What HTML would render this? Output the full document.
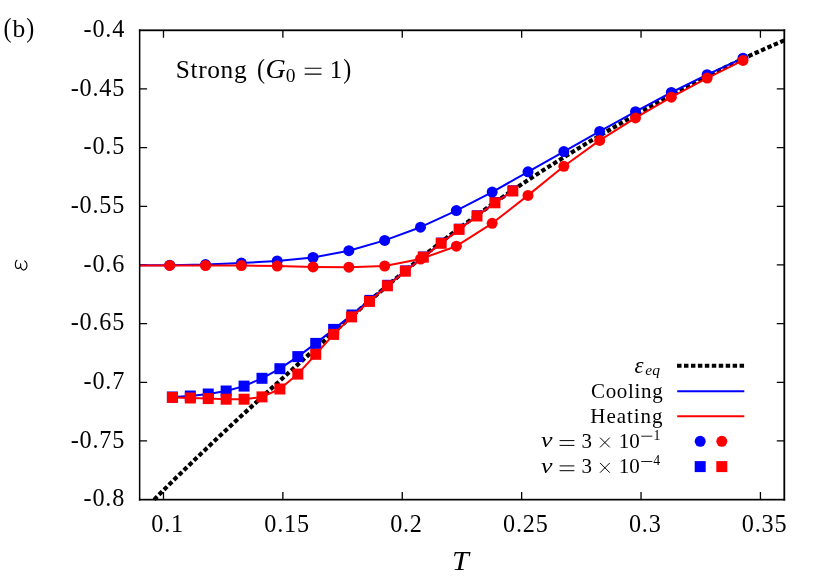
<!DOCTYPE html>
<html><head><meta charset="utf-8"><title>chart</title>
<style>
html,body{margin:0;padding:0;background:#fff;}
body{width:830px;height:581px;overflow:hidden;}
svg{display:block;}
text{font-family:"Liberation Serif",serif;fill:#000;}
.tk{font-size:24.2px;letter-spacing:0.8px;}
.lg{font-size:21px;}
.it{font-style:italic;}
</style></head><body>
<svg width="830" height="581" viewBox="0 0 830 581">
<rect x="0" y="0" width="830" height="581" fill="#fff"/>

<g stroke="#000" stroke-width="1.3" fill="none">
<path d="M163.48,499.6 v-7.5 M163.48,30.3 v7.5"/>
<path d="M282.87,499.6 v-7.5 M282.87,30.3 v7.5"/>
<path d="M402.26,499.6 v-7.5 M402.26,30.3 v7.5"/>
<path d="M521.65,499.6 v-7.5 M521.65,30.3 v7.5"/>
<path d="M641.04,499.6 v-7.5 M641.04,30.3 v7.5"/>
<path d="M760.43,499.6 v-7.5 M760.43,30.3 v7.5"/>
<path d="M139.6,88.96 h7.5 M784.3,88.96 h-7.5"/>
<path d="M139.6,147.62 h7.5 M784.3,147.62 h-7.5"/>
<path d="M139.6,206.29 h7.5 M784.3,206.29 h-7.5"/>
<path d="M139.6,264.95 h7.5 M784.3,264.95 h-7.5"/>
<path d="M139.6,323.61 h7.5 M784.3,323.61 h-7.5"/>
<path d="M139.6,382.28 h7.5 M784.3,382.28 h-7.5"/>
<path d="M139.6,440.94 h7.5 M784.3,440.94 h-7.5"/>
</g>
<path d="M154.11,499.60 L159.41,494.30 L164.70,489.03 L170.00,483.80 L175.29,478.59 L180.59,473.42 L185.88,468.28 L191.18,463.17 L196.48,458.08 L201.77,453.03 L207.07,447.99 L212.36,442.98 L217.66,438.00 L222.95,433.03 L228.25,428.09 L233.55,423.16 L238.84,418.26 L244.14,413.37 L249.43,408.49 L254.73,403.64 L260.02,398.79 L265.32,393.96 L270.62,389.14 L275.91,384.33 L281.21,379.52 L286.50,374.73 L291.80,369.94 L297.09,365.16 L302.39,360.38 L307.69,355.61 L312.98,350.84 L318.28,346.08 L323.57,341.33 L328.87,336.60 L334.16,331.88 L339.46,327.17 L344.76,322.48 L350.05,317.82 L355.35,313.17 L360.64,308.55 L365.94,303.95 L371.23,299.39 L376.53,294.85 L381.83,290.34 L387.12,285.86 L392.42,281.41 L397.71,277.00 L403.01,272.62 L408.30,268.27 L413.60,263.95 L418.90,259.67 L424.19,255.43 L429.49,251.22 L434.78,247.05 L440.08,242.92 L445.37,238.82 L450.67,234.76 L455.97,230.74 L461.26,226.77 L466.56,222.83 L471.85,218.93 L477.15,215.08 L482.44,211.27 L487.74,207.50 L493.04,203.77 L498.33,200.09 L503.63,196.44 L508.92,192.82 L514.22,189.25 L519.51,185.70 L524.81,182.20 L530.11,178.72 L535.40,175.28 L540.70,171.87 L545.99,168.49 L551.29,165.14 L556.58,161.81 L561.88,158.51 L567.18,155.24 L572.47,151.99 L577.77,148.77 L583.06,145.56 L588.36,142.38 L593.65,139.22 L598.95,136.08 L604.25,132.95 L609.54,129.85 L614.84,126.76 L620.13,123.69 L625.43,120.64 L630.72,117.61 L636.02,114.60 L641.32,111.61 L646.61,108.65 L651.91,105.70 L657.20,102.78 L662.50,99.88 L667.79,97.00 L673.09,94.14 L678.39,91.31 L683.68,88.51 L688.98,85.72 L694.27,82.97 L699.57,80.24 L704.86,77.53 L710.16,74.85 L715.46,72.20 L720.75,69.58 L726.05,66.98 L731.34,64.41 L736.64,61.87 L741.93,59.36 L747.23,56.88 L752.53,54.43 L757.82,52.01 L763.12,49.62 L768.41,47.26 L773.71,44.93 L779.00,42.64 L784.30,40.37" stroke="#000" stroke-width="4.15" stroke-dasharray="4.45 2.5174" fill="none"/>
<polyline points="139.6,265.3 169.70,265.20 205.53,264.60 241.36,263.10 277.19,260.90 313.02,257.50 348.85,250.70 384.68,240.40 420.51,227.20 456.34,210.60 492.17,192.10 528.00,171.80 563.83,151.60 599.66,131.40 635.49,111.70 671.32,92.50 707.15,74.70 742.98,58.20" stroke="#0000ff" stroke-width="2" fill="none" stroke-linejoin="round"/>
<circle cx="169.70" cy="265.20" r="5.5" fill="#0000ff"/>
<circle cx="205.53" cy="264.60" r="5.5" fill="#0000ff"/>
<circle cx="241.36" cy="263.10" r="5.5" fill="#0000ff"/>
<circle cx="277.19" cy="260.90" r="5.5" fill="#0000ff"/>
<circle cx="313.02" cy="257.50" r="5.5" fill="#0000ff"/>
<circle cx="348.85" cy="250.70" r="5.5" fill="#0000ff"/>
<circle cx="384.68" cy="240.40" r="5.5" fill="#0000ff"/>
<circle cx="420.51" cy="227.20" r="5.5" fill="#0000ff"/>
<circle cx="456.34" cy="210.60" r="5.5" fill="#0000ff"/>
<circle cx="492.17" cy="192.10" r="5.5" fill="#0000ff"/>
<circle cx="528.00" cy="171.80" r="5.5" fill="#0000ff"/>
<circle cx="563.83" cy="151.60" r="5.5" fill="#0000ff"/>
<circle cx="599.66" cy="131.40" r="5.5" fill="#0000ff"/>
<circle cx="635.49" cy="111.70" r="5.5" fill="#0000ff"/>
<circle cx="671.32" cy="92.50" r="5.5" fill="#0000ff"/>
<circle cx="707.15" cy="74.70" r="5.5" fill="#0000ff"/>
<circle cx="742.98" cy="58.20" r="5.5" fill="#0000ff"/>
<polyline points="139.6,265.4 169.70,265.40 205.53,265.50 241.36,265.60 277.19,266.10 313.02,266.90 348.85,267.20 384.68,266.00 420.51,259.00 456.34,246.20 492.17,223.30 528.00,195.40 563.83,166.30 599.66,140.40 635.49,117.90 671.32,97.20 707.15,78.10 742.98,60.40" stroke="#ff0000" stroke-width="2" fill="none" stroke-linejoin="round"/>
<circle cx="169.70" cy="265.40" r="5.5" fill="#ff0000"/>
<circle cx="205.53" cy="265.50" r="5.5" fill="#ff0000"/>
<circle cx="241.36" cy="265.60" r="5.5" fill="#ff0000"/>
<circle cx="277.19" cy="266.10" r="5.5" fill="#ff0000"/>
<circle cx="313.02" cy="266.90" r="5.5" fill="#ff0000"/>
<circle cx="348.85" cy="267.20" r="5.5" fill="#ff0000"/>
<circle cx="384.68" cy="266.00" r="5.5" fill="#ff0000"/>
<circle cx="420.51" cy="259.00" r="5.5" fill="#ff0000"/>
<circle cx="456.34" cy="246.20" r="5.5" fill="#ff0000"/>
<circle cx="492.17" cy="223.30" r="5.5" fill="#ff0000"/>
<circle cx="528.00" cy="195.40" r="5.5" fill="#ff0000"/>
<circle cx="563.83" cy="166.30" r="5.5" fill="#ff0000"/>
<circle cx="599.66" cy="140.40" r="5.5" fill="#ff0000"/>
<circle cx="635.49" cy="117.90" r="5.5" fill="#ff0000"/>
<circle cx="671.32" cy="97.20" r="5.5" fill="#ff0000"/>
<circle cx="707.15" cy="78.10" r="5.5" fill="#ff0000"/>
<circle cx="742.98" cy="60.40" r="5.5" fill="#ff0000"/>
<polyline points="172.40,397.00 190.32,396.00 208.23,394.00 226.15,391.00 244.07,386.10 261.99,378.30 279.90,368.70 297.82,356.60 315.74,343.40 333.65,329.40 351.57,315.00 369.49,300.40 387.40,285.30 405.32,270.90 423.24,257.00 441.15,243.10 459.07,229.20 476.99,215.80 494.91,202.60 512.82,190.80" stroke="#0000ff" stroke-width="2" fill="none" stroke-linejoin="round"/>
<rect x="166.90" y="391.50" width="11" height="11" fill="#0000ff"/>
<rect x="184.82" y="390.50" width="11" height="11" fill="#0000ff"/>
<rect x="202.73" y="388.50" width="11" height="11" fill="#0000ff"/>
<rect x="220.65" y="385.50" width="11" height="11" fill="#0000ff"/>
<rect x="238.57" y="380.60" width="11" height="11" fill="#0000ff"/>
<rect x="256.49" y="372.80" width="11" height="11" fill="#0000ff"/>
<rect x="274.40" y="363.20" width="11" height="11" fill="#0000ff"/>
<rect x="292.32" y="351.10" width="11" height="11" fill="#0000ff"/>
<rect x="310.24" y="337.90" width="11" height="11" fill="#0000ff"/>
<rect x="328.15" y="323.90" width="11" height="11" fill="#0000ff"/>
<rect x="346.57" y="309.50" width="10" height="10.4" fill="#0000ff"/>
<rect x="364.49" y="294.90" width="10" height="10.4" fill="#0000ff"/>
<rect x="382.40" y="279.80" width="10" height="10.4" fill="#0000ff"/>
<rect x="400.32" y="265.40" width="10" height="10.4" fill="#0000ff"/>
<rect x="418.24" y="251.50" width="10" height="10.4" fill="#0000ff"/>
<rect x="436.15" y="237.60" width="10" height="10.4" fill="#0000ff"/>
<rect x="454.07" y="223.70" width="10" height="10.4" fill="#0000ff"/>
<rect x="471.99" y="210.30" width="10" height="10.4" fill="#0000ff"/>
<rect x="489.91" y="197.10" width="10" height="10.4" fill="#0000ff"/>
<rect x="507.82" y="185.30" width="10" height="10.4" fill="#0000ff"/>
<polyline points="172.40,397.40 190.32,398.00 208.23,398.60 226.15,399.20 244.07,399.20 261.99,396.90 279.90,389.00 297.82,374.10 315.74,354.30 333.65,334.40 351.57,316.90 369.49,301.40 387.40,285.80 405.32,271.20 423.24,257.20 441.15,243.30 459.07,229.40 476.99,216.00 494.91,202.80 512.82,191.00" stroke="#ff0000" stroke-width="2" fill="none" stroke-linejoin="round"/>
<rect x="166.90" y="391.90" width="11" height="11" fill="#ff0000"/>
<rect x="184.82" y="392.50" width="11" height="11" fill="#ff0000"/>
<rect x="202.73" y="393.10" width="11" height="11" fill="#ff0000"/>
<rect x="220.65" y="393.70" width="11" height="11" fill="#ff0000"/>
<rect x="238.57" y="393.70" width="11" height="11" fill="#ff0000"/>
<rect x="256.49" y="391.40" width="11" height="11" fill="#ff0000"/>
<rect x="274.40" y="383.50" width="11" height="11" fill="#ff0000"/>
<rect x="292.32" y="368.60" width="11" height="11" fill="#ff0000"/>
<rect x="310.24" y="348.80" width="11" height="11" fill="#ff0000"/>
<rect x="328.15" y="328.90" width="11" height="11" fill="#ff0000"/>
<rect x="346.07" y="311.40" width="11" height="11" fill="#ff0000"/>
<rect x="363.99" y="295.90" width="11" height="11" fill="#ff0000"/>
<rect x="381.90" y="280.30" width="11" height="11" fill="#ff0000"/>
<rect x="399.82" y="265.70" width="11" height="11" fill="#ff0000"/>
<rect x="417.74" y="251.70" width="11" height="11" fill="#ff0000"/>
<rect x="435.65" y="237.80" width="11" height="11" fill="#ff0000"/>
<rect x="453.57" y="223.90" width="11" height="11" fill="#ff0000"/>
<rect x="471.49" y="210.50" width="11" height="11" fill="#ff0000"/>
<rect x="489.41" y="197.30" width="11" height="11" fill="#ff0000"/>
<rect x="507.32" y="185.50" width="11" height="11" fill="#ff0000"/>
<g fill="#000"><rect x="138.9" y="29.4" width="646.3" height="1.8"/><rect x="138.9" y="498.8" width="646.3" height="1.7"/><rect x="138.9" y="29.4" width="1.5" height="471.1"/><rect x="783.4" y="29.4" width="1.8" height="471.1"/></g>
<g style="opacity:0.999">
<text class="tk" x="125.1" y="37.10" text-anchor="end">-0.4</text>
<text class="tk" x="125.1" y="95.76" text-anchor="end">-0.45</text>
<text class="tk" x="125.1" y="154.43" text-anchor="end">-0.5</text>
<text class="tk" x="125.1" y="213.09" text-anchor="end">-0.55</text>
<text class="tk" x="125.1" y="271.75" text-anchor="end">-0.6</text>
<text class="tk" x="125.1" y="330.41" text-anchor="end">-0.65</text>
<text class="tk" x="125.1" y="389.08" text-anchor="end">-0.7</text>
<text class="tk" x="125.1" y="447.74" text-anchor="end">-0.75</text>
<text class="tk" x="125.1" y="506.40" text-anchor="end">-0.8</text>
<text class="tk" x="167.68" y="532.4" text-anchor="middle">0.1</text>
<text class="tk" x="287.07" y="532.4" text-anchor="middle">0.15</text>
<text class="tk" x="406.46" y="532.4" text-anchor="middle">0.2</text>
<text class="tk" x="525.85" y="532.4" text-anchor="middle">0.25</text>
<text class="tk" x="645.24" y="532.4" text-anchor="middle">0.3</text>
<text class="tk" x="764.63" y="532.4" text-anchor="middle">0.35</text>
<text x="3.4" y="36.6" style="font-size:28px" transform="translate(3.4 0) scale(0.86 1) translate(-3.4 0)">(</text>
<text x="12.6" y="37" style="font-size:25.5px">b</text>
<text x="26.3" y="36.6" style="font-size:28px" transform="translate(26.3 0) scale(0.86 1) translate(-26.3 0)">)</text>
<text class="it" x="452.0" y="569.7" style="font-size:27px" transform="translate(452.0 0) scale(1.12 1) translate(-452.0 0)">T</text>
<text x="175.8" y="77.9" style="font-size:25.4px;letter-spacing:0.62px">Strong</text>
<text x="256.9" y="77.6" style="font-size:28px" transform="translate(256.9 0) scale(0.86 1) translate(-256.9 0)">(</text>
<text class="it" x="265.6" y="77.9" style="font-size:28px">G</text>
<text x="285.7" y="81.7" style="font-size:19.5px">0</text>
<path d="M304.7,68.3 H321.5 M304.7,74.1 H321.5" stroke="#000" stroke-width="1.1" fill="none"/>
<text x="329.7" y="77.9" style="font-size:25px">1</text>
<text x="343.2" y="77.6" style="font-size:28px" transform="translate(343.2 0) scale(0.86 1) translate(-343.2 0)">)</text>
<text class="lg" x="663.3" y="397.7" text-anchor="end" style="letter-spacing:0.66px">Cooling</text>
<text class="lg" x="663.5" y="422.7" text-anchor="end" style="letter-spacing:0.95px">Heating</text>
<text class="lg it" x="634.6" y="372.5" style="font-size:23px">ε</text>
<text class="it" x="645.3" y="374.9" style="font-size:15.5px">eq</text>
<text class="lg it" x="541" y="447.5" style="font-size:20.5px" transform="translate(541.2 0) scale(1.26 1) translate(-541.2 0)">ν</text>
<path d="M559.6,440.60 H574.4 M559.6,445.40 H574.4" stroke="#000" stroke-width="1" fill="none"/>
<text class="lg" x="581.6" y="447.5">3</text>
<path d="M600.0,437.60 L609.8,447.40 M600.0,447.40 L609.8,437.60" stroke="#000" stroke-width="1" fill="none"/>
<text class="lg" x="618.7" y="447.5" style="letter-spacing:0px">10</text>
<path d="M641.2,436.20 H652.3" stroke="#000" stroke-width="0.9" fill="none"/>
<text class="lg" x="653.6" y="439.90" style="font-size:13.8px">1</text>
<text class="lg it" x="541" y="472.8" style="font-size:20.5px" transform="translate(541.2 0) scale(1.26 1) translate(-541.2 0)">ν</text>
<path d="M559.6,465.90 H574.4 M559.6,470.70 H574.4" stroke="#000" stroke-width="1" fill="none"/>
<text class="lg" x="581.6" y="472.8">3</text>
<path d="M600.0,462.90 L609.8,472.70 M600.0,472.70 L609.8,462.90" stroke="#000" stroke-width="1" fill="none"/>
<text class="lg" x="618.7" y="472.8" style="letter-spacing:0px">10</text>
<path d="M641.2,461.50 H652.3" stroke="#000" stroke-width="0.9" fill="none"/>
<text class="lg" x="653.2" y="465.20" style="font-size:13.8px">4</text>
</g>
<g transform="translate(21.1 0) scale(0.92 1) translate(-21.1 0)"><path d="M16.6,260.3 C14.6,261.6 14.3,265.6 15.6,267.3 C17.0,269.1 19.8,268.6 20.6,266.2 C20.9,265.2 20.6,264.3 20.4,263.9 M20.6,266.2 C20.9,268.6 22.6,270.3 24.2,270.0 C27.0,269.5 28.0,266.0 27.2,263.6 C26.8,262.4 26.0,261.5 25.0,261.0" stroke="#000" stroke-width="1.2" fill="none" stroke-linecap="round"/></g>
<path d="M677.05,365.7 H744.3" stroke="#000" stroke-width="4.15" stroke-dasharray="4.45 2.5" fill="none"/>
<path d="M677.2,391.2 H744.3" stroke="#0000ff" stroke-width="2" fill="none"/>
<path d="M677.2,416.3 H744.3" stroke="#ff0000" stroke-width="2" fill="none"/>
<circle cx="700.2" cy="441.35" r="5.5" fill="#0000ff"/><circle cx="721.8" cy="441.35" r="5.5" fill="#ff0000"/><circle cx="711.3" cy="441.8" r="0.6" fill="#ffd8c8"/><circle cx="711.3" cy="467.4" r="0.6" fill="#d8d8d8"/>
<rect x="694.7" y="461.1" width="11" height="11" fill="#0000ff"/><rect x="716.3" y="461.1" width="11" height="11" fill="#ff0000"/>
</svg></body></html>
